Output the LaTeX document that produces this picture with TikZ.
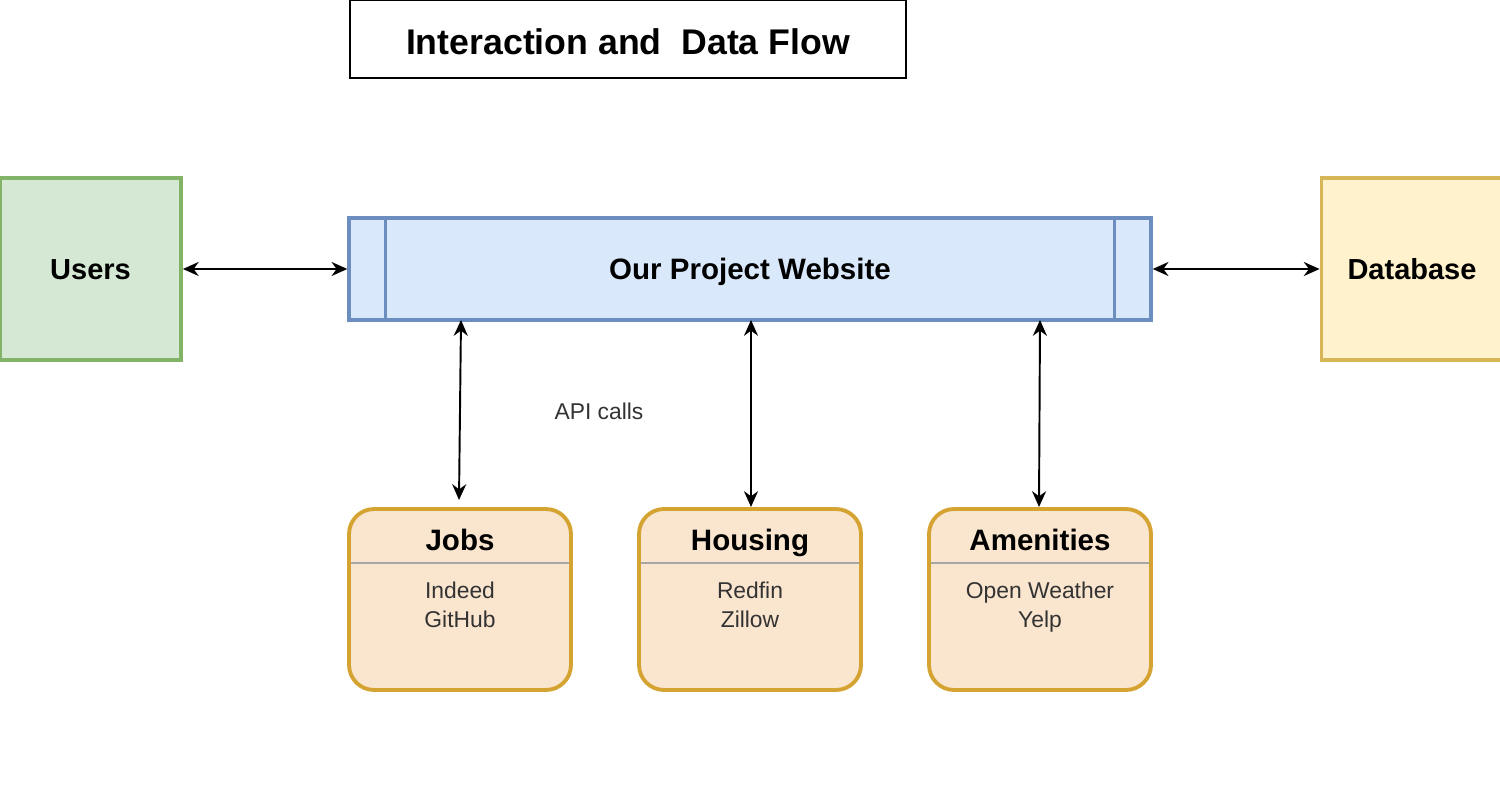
\documentclass[tikz,border=0pt]{standalone}
\usepackage{fontspec}
\setmainfont{Liberation Sans}
\usetikzlibrary{arrows.meta}
\definecolor{usrfill}{HTML}{D5E8D4}
\definecolor{usrline}{HTML}{82B366}
\definecolor{webfill}{HTML}{DAE8FC}
\definecolor{webline}{HTML}{6C8EBF}
\definecolor{dbfill}{HTML}{FFF2CC}
\definecolor{dbline}{HTML}{D6B656}
\definecolor{cardfill}{HTML}{FAE5CF}
\definecolor{cardline}{HTML}{D5A331}
\definecolor{txtgray}{HTML}{333333}
\begin{document}
\begin{tikzpicture}[x=0.02cm,y=-0.02cm,
  bigbox/.style={draw, line width=2.2pt, minimum width=3.62cm, minimum height=3.64cm, inner sep=0pt, text height=11.9pt, text depth=0pt, font=\bfseries\fontsize{16.5}{19}\selectfont},
  card/.style={draw=cardline, fill=cardfill, line width=2.2pt, rounded corners=0.5cm, minimum width=4.44cm, minimum height=3.62cm, inner sep=0pt},
  cardtitle/.style={font=\bfseries\fontsize{16.8}{19}\selectfont, inner sep=0pt, text height=12pt, text depth=0pt},
  items/.style={font=\fontsize{13}{16}\selectfont, text=txtgray, align=center, inner sep=0pt},
  link/.style={line width=1.1pt, {Stealth[length=9pt,width=8pt]}-{Stealth[length=9pt,width=8pt]}}
]
\useasboundingbox (0,0) rectangle (1500,810);
\fill[white] (0,0) rectangle (1500,810);

% title
\node[draw, line width=0.9pt, minimum width=11.12cm, minimum height=1.56cm, inner sep=0pt] (title) at (628,39) {};
\node[font=\bfseries\fontsize{20.3}{22}\selectfont, inner sep=0pt, text height=14.5pt, text depth=0pt] (title-t) at (628,42) {Interaction and\ \ Data Flow};

% users, website, database
\node[bigbox, draw=usrline, fill=usrfill] (users) at (90.5,269) {Users};
\node[draw=webline, fill=webfill, line width=2pt, minimum width=16.04cm, minimum height=2.04cm, inner sep=0pt,
      text height=12pt, text depth=0pt, font=\bfseries\fontsize{16.8}{19}\selectfont] (web) at (750,269) {Our Project Website};
\draw[webline, line width=2pt] (web.north west) ++(38,0) coordinate (wl1) -- (wl1 |- web.south);
\draw[webline, line width=2pt] (web.north east) ++(-38,0) coordinate (wr1) -- (wr1 |- web.south);
\node[bigbox, draw=dbline, fill=dbfill] (db) at (1412,269) {Database};

\draw[link] (users.east) -- (web.west);
\draw[link] (web.east) -- (db.west);

% cards
\foreach \nm/\cx/\ttl/\itm in {jobs/460/Jobs/{Indeed\\GitHub}, housing/750/Housing/{Redfin\\Zillow}, amen/1040/Amenities/{Open Weather\\Yelp}}{
  \node[card] (\nm) at (\cx,599.5) {};
  \node[cardtitle] (\nm-t) at (\cx,540) {\ttl};
  \draw[gray!70, line width=1.2pt] ([xshift=2.2pt]\nm.west |- 0,563) coordinate (\nm-hl) -- ([xshift=-2.2pt]\nm.east |- 0,563);
  \node[items, anchor=north] (\nm-i) at (\cx,582) {\itm};
}

% vertical arrows
\coordinate (j1) at (461,320);
\coordinate (j2) at (459,500);
\draw[link] (j1) -- (j2);
\coordinate (h1) at (751,320);
\coordinate (h2) at (751,507);
\draw[link] (h1) -- (h2);
\coordinate (a1) at (1040,320);
\coordinate (a2) at (1039,507);
\draw[link] (a1) -- (a2);

\node[items] (api) at (599,411) {API calls};
\end{tikzpicture}
\end{document}
